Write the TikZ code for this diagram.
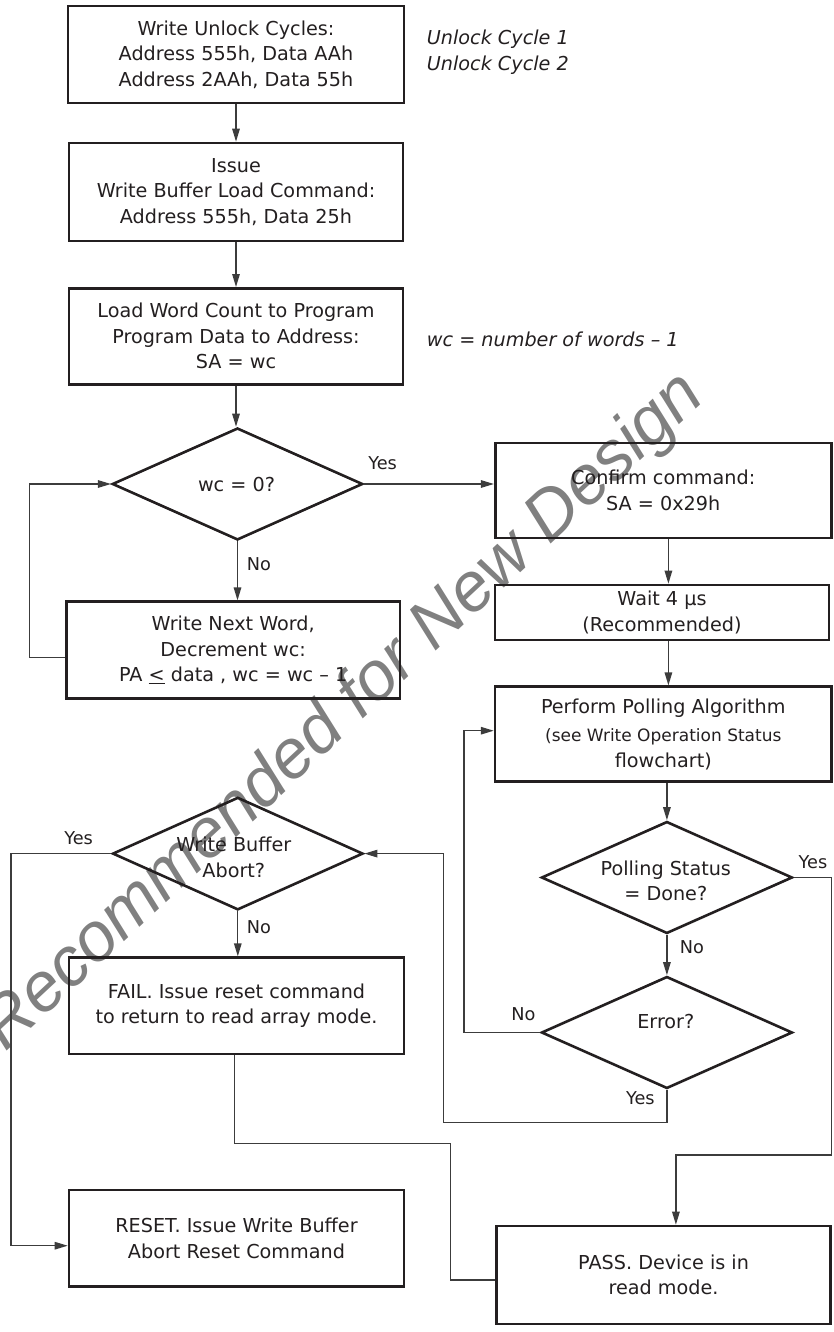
\documentclass[tikz,border=0pt]{standalone}
\usepackage{fontspec}
\setmainfont{DejaVu Sans}
\newfontfamily\wmfont{Liberation Sans}
\usetikzlibrary{arrows.meta,shapes.geometric}
\definecolor{ink}{HTML}{231F20}
\definecolor{wire}{HTML}{3C3C3C}
\definecolor{wmgray}{HTML}{808080}
\newcommand\mainsz{\fontsize{19.2}{25.5}\selectfont}
\newcommand\lblsz{\fontsize{17.7}{21}\selectfont}
\begin{document}
\begin{tikzpicture}[x=1pt,y=-1pt,
  box/.style={draw=ink,line width=2.6pt,inner sep=0pt,align=center,text=ink,font=\mainsz},
  dia/.style={draw=ink,line width=2.6pt,shape=diamond,inner sep=0pt,minimum width=251pt,minimum height=112pt},
  dtext/.style={inner sep=0pt,align=center,text=ink,font=\mainsz},
  conn/.style={draw=wire,line width=1.3pt},
  arr/.style={conn,-{Triangle[length=13pt,width=7.5pt]}},
  lbl/.style={font=\lblsz,text=ink,inner sep=0pt},
  note/.style={font=\mainsz\itshape,text=ink,inner sep=0pt,anchor=west}]
\useasboundingbox (0,0) rectangle (833,1332);
% watermark
\begin{scope}
\clip (0,0) rectangle (833,1332);
\node[font=\wmfont\itshape\fontsize{69}{69}\selectfont,text=wmgray,rotate=43,anchor=base west,inner sep=0pt] (wmk) at (-87,1139) {Not Recommended for New Design};
\end{scope}
% boxes
\node[box,minimum width=336pt,minimum height=97pt] (b1) at (236,54.5) {Write Unlock Cycles:\\Address 555h, Data AAh\\Address 2AAh, Data 55h};
\node[box,minimum width=334pt,minimum height=98pt] (b2) at (236,192) {Issue\\Write Buffer Load Command:\\Address 555h, Data 25h};
\node[box,minimum width=334pt,minimum height=96pt] (b3) at (236,336.3) {Load Word Count to Program\\Program Data to Address:\\SA = wc};
\node[dia,minimum width=250.5pt] (d1) at (237.5,484) {};
\node[dtext] (d1t) at (236.5,485) {wc = 0?};
\node[box,minimum width=336pt,minimum height=95pt] (cf) at (663.2,490.3) {Confirm command:\\SA = 0x29h};
\node[box,minimum width=334pt,minimum height=55pt] (wt) at (662,612.5) {Wait 4 µs\\(Recommended)};
\node[box,minimum width=336.5pt,minimum height=95pt] (pf) at (663.3,734.2) {Perform Polling Algorithm\\[3.3pt]\fontsize{17}{21}\selectfont (see Write Operation Status\\flowchart)};
\node[box,minimum width=333.6pt,minimum height=96.6pt] (b5) at (233.2,650) {Write Next Word,\\Decrement wc:\\PA \underline{<} data , wc = wc – 1};
\node[dia,minimum width=250.5pt,minimum height=112.6pt] (wba) at (237.8,853.6) {};
\node[dtext] (wbat) at (233.8,857.5) {Write Buffer\\Abort?};
\node[dia] (pd) at (666.9,877.5) {};
\node[dtext] (pdt) at (665.8,880.8) {Polling Status\\= Done?};
\node[dia] (ed) at (666.9,1032.5) {};
\node[dtext] (edt) at (665.8,1021) {Error?};
\node[box,minimum width=335pt,minimum height=96.3pt] (fl) at (236.5,1005.8) {FAIL. Issue reset command\\to return to read array mode.};
\node[box,minimum width=335pt,minimum height=96.7pt] (rs) at (236.5,1238.3) {RESET. Issue Write Buffer\\Abort Reset Command};
\node[box,minimum width=333.7pt,minimum height=98pt] (ps) at (663.6,1275) {PASS. Device is in\\read mode.};
% notes
\node[note] (n1) at (426.7,39.3) {Unlock Cycle 1};
\node[note] (n2) at (426.7,65) {Unlock Cycle 2};
\node[note] (n3) at (426.7,339.3) {wc = number of words – 1};
% labels
\node[lbl] (y1) at (382.6,462.7) {Yes};
\node[lbl] (no1) at (258.8,564) {No};
\node[lbl] (y2) at (78.6,838.3) {Yes};
\node[lbl] (no2) at (258.8,926.7) {No};
\node[lbl] (y3) at (813,861.7) {Yes};
\node[lbl] (no3) at (691.8,946.7) {No};
\node[lbl] (no4) at (523.4,1014.3) {No};
\node[lbl] (y4) at (640.3,1098.3) {Yes};
% helper coordinates
\coordinate (xr) at (668.4,0);
\coordinate (loopL) at (29.2,657.7);
\coordinate (rr) at (831.6,1155);
\coordinate (pr) at (675.9,1155);
\coordinate (lx) at (463.9,730.7);
\coordinate (ey) at (443.7,1122.7);
\coordinate (ly) at (11,1245.7);
\coordinate (f1) at (234.3,1143.3);
\coordinate (f2) at (450.6,1280);
% connectors
\draw[arr] (b1.south) -- (b2.north);
\draw[arr] (b2.south) -- (b3.north);
\draw[arr] (b3.south) -- (b3.south |- d1.north);
\draw[arr] (d1.east) -- (d1.east -| cf.west);
\draw[arr] (d1.south) -- (d1.south |- b5.north);
\draw[arr] (b5.west |- loopL) -- (loopL) |- (d1.west);
\draw[arr] (cf.south -| xr) -- (wt.north -| xr);
\draw[arr] (wt.south -| xr) -- (pf.north -| xr);
\draw[arr] (pd.north |- pf.south) -- (pd.north);
\draw[arr] (pd.south) -- (ed.north);
\draw[arr] (pd.east) -| (rr) -- (pr) -- (pr |- ps.north);
\draw[arr] (ed.west) -| (lx) -- (lx -| pf.west);
\draw[arr] (ed.south) |- (ey) |- (wba.east);
\draw[arr] (wba.west) -| (ly) -- (ly -| rs.west);
\draw[arr] (wba.south) -- (wba.south |- fl.north);
\draw[conn] (fl.south -| f1) -- (f1) -| (f2) -- (f2 -| ps.west);
\end{tikzpicture}
\end{document}
